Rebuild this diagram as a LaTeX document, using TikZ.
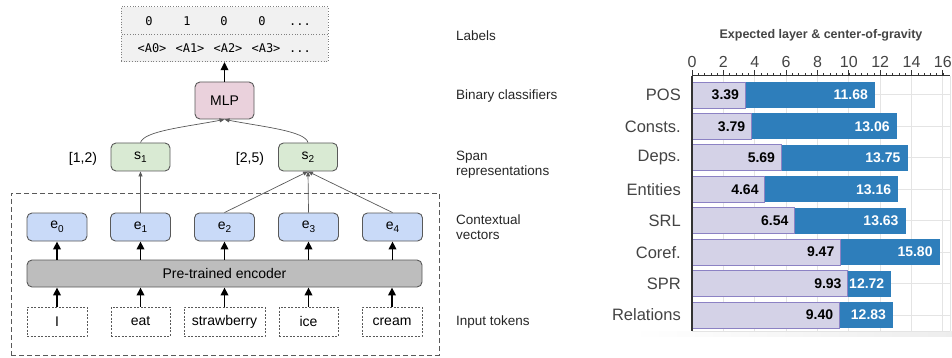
\documentclass[tikz,border=0pt]{standalone}
\usepackage{fontspec}
\setmainfont{Liberation Sans}
\newfontfamily\codefont[Ligatures=NoCommon]{DejaVu Sans Mono}
\usetikzlibrary{arrows.meta}

\definecolor{edgegray}{HTML}{595959}
\definecolor{mlpfill}{HTML}{EAD1DC}
\definecolor{spanfill}{HTML}{D9EAD3}
\definecolor{vecfill}{HTML}{C9DAF8}
\definecolor{encfill}{HTML}{BDBDBD}
\definecolor{tagfill}{HTML}{F1F1F1}
\definecolor{gridgray}{HTML}{E4E4E4}
\definecolor{axisgray}{HTML}{333333}
\definecolor{labgray}{HTML}{444444}
\definecolor{lowfill}{HTML}{D4D2E7}
\definecolor{lowedge}{HTML}{8C82C4}
\definecolor{highfill}{HTML}{2E7EBB}

\newcommand{\fs}[1]{\fontsize{#1}{#1}\selectfont}
\newcommand{\lowsub}[1]{\raisebox{-3.5pt}{\fs{10}#1}}
\newcommand{\codedots}{.{}.{}.}

\tikzset{
  roundbox/.style={draw=edgegray, line width=0.9pt, rounded corners=5pt,
    inner sep=0pt, font=\fs{14}},
  mlpbox/.style={roundbox, fill=mlpfill, minimum width=59pt, minimum height=37pt},
  spanbox/.style={roundbox, fill=spanfill, minimum width=59pt, minimum height=28pt},
  vecbox/.style={roundbox, fill=vecfill, minimum width=60pt, minimum height=28pt},
  encbox/.style={roundbox, fill=encfill, minimum width=395pt, minimum height=27pt},
  tokbox/.style={draw=edgegray, line width=0.8pt, dash pattern=on 2pt off 1.5pt,
    inner sep=0pt, minimum height=29pt, font=\fs{14}},
  tagrow/.style={draw=gray, line width=0.7pt, dotted, fill=tagfill, inner sep=0pt,
    minimum width=207pt, minimum height=27.5pt},
  code/.style={font=\codefont\fs{12}, inner sep=0pt, anchor=base},
  framebox/.style={draw=edgegray, line width=0.9pt, dash pattern=on 5pt off 3pt,
    minimum width=428pt, minimum height=162pt, inner sep=0pt},
  boldarrow/.style={line width=1.8pt, -{Triangle[length=8pt,width=7.5pt]}, black},
  thinarrow/.style={line width=0.7pt, edgegray, -{Triangle[length=5pt,width=4pt]}},
  sidelabel/.style={anchor=west, font=\fs{13.5}, text=black!85, inner sep=0pt, align=left},
  catlabel/.style={anchor=east, font=\fs{16.5}, text=labgray, inner sep=0pt},
  ticklabel/.style={font=\fs{16}, text=labgray, inner sep=0pt},
  lowval/.style={anchor=east, font=\bfseries\fs{14}, text=black, inner sep=0pt},
  highval/.style={anchor=east, font=\bfseries\fs{14}, text=white, inner sep=0pt},
}

\begin{document}
\begin{tikzpicture}[x=1pt, y=-1pt]
\useasboundingbox (0,0) rectangle (952,358);

% ---------------- probing architecture ----------------
\node[framebox] (frame) at (225,274) {};

\node[tagrow] (toprow) at (224.5,20.5) {};
\node[tagrow] (botrow) at (224.5,48) {};
\foreach \x/\t [count=\i] in {149/0,187/1,224/0,262/0,300/{\codedots}}
  \node[code] (bit\i) at (\x,25.5) {\t};
\foreach \x/\t [count=\i] in {152/{<A0>},190/{<A1>},228/{<A2>},266/{<A3>},300/{\codedots}}
  \node[code] (tag\i) at (\x,53) {\t};

\node[mlpbox] (mlp) at (224.5,100.5) {MLP};

\node[spanbox] (s1) at (140.5,157) {s\lowsub{1}};
\node[spanbox] (s2) at (308,157) {s\lowsub{2}};
\node[font=\fs{14}, inner sep=0pt] (r1) at (83,159) {[1,2)};
\node[font=\fs{14}, inner sep=0pt] (r2) at (250,159) {[2,5)};

\foreach \x [count=\i from 0] in {57,140.5,224.5,308.5,392.5}
  \node[vecbox] (e\i) at (\x,227) {e\lowsub{\i}};

\node[encbox] (enc) at (224.5,273.5) {Pre-trained encoder};

\node[tokbox, minimum width=60pt] (t0) at (57,321.5) {I};
\node[tokbox, minimum width=59pt] (t1) at (140.5,321.5) {eat};
\node[tokbox, minimum width=81pt] (t2) at (224.5,321.5) {strawberry};
\node[tokbox, minimum width=59pt] (t3) at (308.5,321.5) {ice};
\node[tokbox, minimum width=60pt] (t4) at (392,321.5) {cream};

% connectors
\foreach \i in {0,...,4}{
  \draw[boldarrow] (t\i.north) -- (t\i.north |- enc.south);
  \draw[boldarrow] (e\i.south |- enc.north) -- (e\i.south);
}
\draw[boldarrow] (mlp.north) -- (botrow.south);
\draw[thinarrow] (e1.north) -- (s1.south);
\draw[thinarrow] (e2.north) -- (s2.south);
\draw[thinarrow] (e3.north) -- (s2.south);
\draw[thinarrow] (e4.north) -- (s2.south);
\draw[thinarrow] (s1.north) .. controls (144,131) and (185,127) .. (mlp.south);
\draw[thinarrow] (s2.north) .. controls (305,131) and (264,127) .. (mlp.south);

% ---------------- row captions ----------------
\node[sidelabel] (capA) at (456,36) {Labels};
\node[sidelabel] (capB) at (456,96) {Binary classifiers};
\node[sidelabel, text depth=0pt] (capC) at (456,163.5) {Span\\[2pt]representations};
\node[sidelabel] (capD) at (456,227) {Contextual\\[2pt]vectors};
\node[sidelabel] (capE) at (456,322) {Input tokens};

% ---------------- bar chart ----------------
\def\xo{692}
\def\ux{15.68}
% faint shadow under the plot area
\shade[left color=white, right color=black!7] (632,331) rectangle (952,336);
% grid
\foreach \v in {2,4,...,16}
  \draw[gridgray, line width=1pt] ({\xo+\v*\ux},76) -- ({\xo+\v*\ux},331);
\draw[gridgray, line width=1pt] (950,76) -- (950,331);
\foreach \k in {0,...,7}
  \draw[gridgray, line width=1pt] (\xo,{95+31.43*\k}) -- (950,{95+31.43*\k});
\draw[gridgray, line width=1pt] (\xo,331) -- (950,331);

% bars
\foreach \cat/\lo/\hi [count=\k from 0] in
   {POS/3.39/11.68, Consts./3.79/13.06, Deps./5.69/13.75, Entities/4.64/13.16,
    SRL/6.54/13.63, Coref./9.47/15.80, SPR/9.93/12.72, Relations/9.40/12.83}{
  \pgfmathsetmacro{\yc}{95+31.43*\k}
  \fill[highfill] ({\xo+\lo*\ux},\yc-13) rectangle ({\xo+\hi*\ux},\yc+13);
  \draw[lowedge, fill=lowfill, line width=0.9pt] (\xo,\yc-13) rectangle ({\xo+\lo*\ux},\yc+13);
  \node[catlabel] (cat\k) at (681,\yc) {\cat};
  \node[lowval] (lo\k) at ({\xo+\lo*\ux-6},\yc) {\lo};
  \node[highval] (hi\k) at ({\xo+\hi*\ux-7},\yc) {\hi};
}

% axes
\draw[axisgray, line width=1.1pt] (\xo,76) -- (\xo,331);
\draw[axisgray, line width=1pt] (\xo,76) -- (950,76);
\foreach \m in {0,...,40}
  \draw[axisgray, line width=0.6pt] ({\xo+\m*0.4*\ux},76) -- ({\xo+\m*0.4*\ux},73);
\foreach \v in {0,2,...,16}{
  \draw[axisgray, line width=0.9pt] ({\xo+\v*\ux},76) -- ({\xo+\v*\ux},70.5);
  \node[ticklabel] (tick\v) at ({\xo+\v*\ux},62) {\v};
}
\node[font=\bfseries\fs{12.5}, text=labgray, inner sep=0pt] (title) at (821,35)
  {Expected layer \& center-of-gravity};
\end{tikzpicture}
\end{document}
